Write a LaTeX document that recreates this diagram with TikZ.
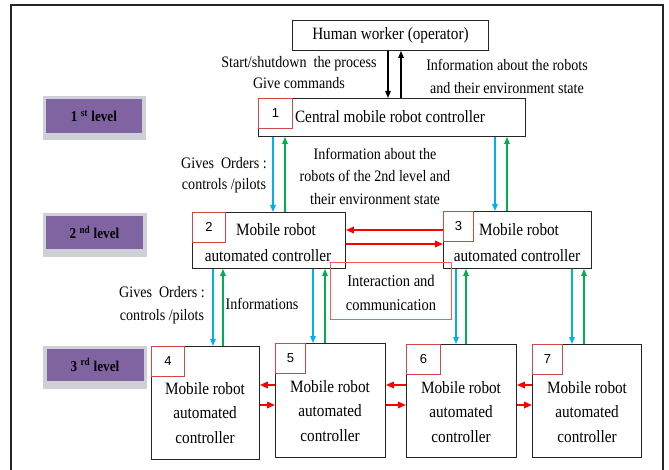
\documentclass[tikz,border=0pt]{standalone}
\usepackage{fontspec}
\setmainfont{Liberation Serif}[FakeStretch=0.88]
\newfontfamily\numfont{Liberation Sans}
\usetikzlibrary{arrows.meta}
\definecolor{cblue}{HTML}{00B0F0}
\definecolor{cgreen}{HTML}{00B050}
\definecolor{cred}{HTML}{FF0000}
\definecolor{nred}{HTML}{D04848}
\definecolor{ired}{HTML}{FF5A5A}
\definecolor{lvpurple}{HTML}{8064A2}
\definecolor{lvshadow}{HTML}{CFCFD8}
\begin{document}
\begin{tikzpicture}[x=1pt,y=-1pt,
  box/.style={draw=black!85, line width=0.9pt, anchor=north west, inner sep=0pt},
  numbox/.style={draw=nred, line width=0.9pt, anchor=north west, inner sep=0pt,
    minimum height=30pt, font=\numfont\fontsize{13}{15}\selectfont},
  ibox/.style={draw=ired, line width=1pt, anchor=north west, inner sep=0pt},
  lvbox/.style={fill=lvpurple, inner sep=0pt, font=\bfseries\fontsize{15}{17}\selectfont},
  lbl/.style={align=center, inner sep=0pt, font=\fontsize{16}{21}\selectfont},
  btxt/.style={align=center, inner sep=0pt, font=\fontsize{17.3}{26}\selectfont},
  ctxt/.style={align=center, inner sep=0pt, font=\fontsize{17.3}{24.5}\selectfont},
  karrow/.style={draw=black, line width=1.2pt, -{Triangle[length=7pt,width=5.5pt]}},
  barrow/.style={draw=cblue, line width=1.3pt, -{Triangle[length=7pt,width=5.5pt]}},
  garrow/.style={draw=cgreen, line width=1.3pt, -{Triangle[length=7pt,width=5.5pt]}},
  rarrow/.style={draw=cred, line width=1.8pt, -{Triangle[length=8pt,width=6.5pt]}},
  frame/.style={draw=black!85, line width=1.8pt}
]
\useasboundingbox (0,0) rectangle (669,470);
\draw[frame] (11,476) -- (11,5) -- (663,5) -- (663,476);

% level labels
\fill[lvshadow] (43,96) rectangle (146,140);
\node[lvbox, minimum width=96pt, minimum height=34pt] (lv1) at (94,116) {1 \textsuperscript{st} level};
\fill[lvshadow] (43,213) rectangle (147,257);
\node[lvbox, minimum width=97pt, minimum height=33pt] (lv2) at (94.5,232.5) {2 \textsuperscript{nd} level};
\fill[lvshadow] (43,346) rectangle (147,389);
\node[lvbox, minimum width=97pt, minimum height=32pt] (lv3) at (95,365) {3 \textsuperscript{rd} level};

% main boxes
\node[box, minimum width=196pt, minimum height=30pt, font=\fontsize{17.3}{18}\selectfont] (hw) at (292,20) {Human worker (operator)};
\node[box, minimum width=267pt, minimum height=38pt] (c1) at (258,98) {};
\node[box, minimum width=153pt, minimum height=56pt] (b2) at (192,212) {};
\node[box, minimum width=148pt, minimum height=57pt] (b3) at (443,211) {};
\node[box, minimum width=108pt, minimum height=113pt] (b4) at (151,346) {};
\node[box, minimum width=110pt, minimum height=114pt] (b5) at (275,343) {};
\node[box, minimum width=110pt, minimum height=113pt] (b6) at (406,344) {};
\node[box, minimum width=109pt, minimum height=113pt] (b7) at (532,344) {};
\node[ibox, minimum width=121pt, minimum height=57pt] (ib) at (330,262) {};

% number boxes
\node[numbox, minimum width=34pt] (n1) at (258,98) {1};
\node[numbox, minimum width=33pt] (n2) at (192,212) {2};
\node[numbox, minimum width=30pt] (n3) at (443,211) {3};
\node[numbox, minimum width=33pt] (n4) at (151,346) {4};
\node[numbox, minimum width=30pt] (n5) at (275,343) {5};
\node[numbox, minimum width=34pt] (n6) at (406,344) {6};
\node[numbox, minimum width=30pt] (n7) at (532,344) {7};

% box texts
\node[btxt] (t1) at (390,117) {Central mobile robot controller};
\node[btxt] (t2a) at (276,230) {Mobile robot};
\node[btxt] (t2b) at (268,256) {automated controller};
\node[btxt] (t3a) at (519,230) {Mobile robot};
\node[btxt] (t3b) at (517,256) {automated controller};
\node[ctxt] (t4) at (205,413) {Mobile robot\\automated\\controller};
\node[ctxt] (t5) at (330,411) {Mobile robot\\automated\\controller};
\node[ctxt] (t6) at (461,412) {Mobile robot\\automated\\controller};
\node[ctxt] (t7) at (587,412) {Mobile robot\\automated\\controller};
\node[btxt, font=\fontsize{16.5}{24}\selectfont] (ti) at (391,293) {Interaction and\\communication};

% labels
\node[lbl] (l1) at (299,73) {Start/shutdown\ \ the process\\Give commands};
\node[lbl, font=\fontsize{16}{23}\selectfont] (l2) at (507,76) {Information about the robots\\and their environment state};
\node[lbl] (l3) at (224,175) {Gives\ \ Orders :\\controls /pilots};
\node[lbl, font=\fontsize{16}{22.5}\selectfont] (l4) at (375,176) {Information about the\\robots of the 2nd level and\\their environment state};
\node[lbl, font=\fontsize{16}{23}\selectfont] (l5) at (162,305) {Gives\ \ Orders :\\controls /pilots};
\node[lbl] (l6) at (262,304) {Informations};

% columns and rows
\coordinate (xk1) at (388,0);
\coordinate (xk2) at (401,0);
\coordinate (xb1) at (273,0);  \coordinate (xg1) at (285,0);
\coordinate (xb2) at (495,0);  \coordinate (xg2) at (507,0);
\coordinate (xb3) at (213,0);  \coordinate (xg3) at (223,0);
\coordinate (xb4) at (313,0);  \coordinate (xg4) at (325,0);
\coordinate (xb5) at (456,0);  \coordinate (xg5) at (466,0);
\coordinate (xb6) at (572,0);  \coordinate (xg6) at (584,0);
\coordinate (yr1) at (0,230);  \coordinate (yr2) at (0,244);
\coordinate (yr3) at (0,385);  \coordinate (yr4) at (0,405);

% black arrows
\draw[karrow] (hw.south -| xk1) -- (c1.north -| xk1);
\draw[karrow] (c1.north -| xk2) -- (hw.south -| xk2);

% level 1 -> 2
\draw[barrow] (c1.south -| xb1) -- (b2.north -| xb1);
\draw[garrow] (b2.north -| xg1) -- (c1.south -| xg1);
\draw[barrow] (c1.south -| xb2) -- (b3.north -| xb2);
\draw[garrow] (b3.north -| xg2) -- (c1.south -| xg2);

% level 2 -> 3
\draw[barrow] (b2.south -| xb3) -- (b4.north -| xb3);
\draw[garrow] (b4.north -| xg3) -- (b2.south -| xg3);
\draw[barrow] (b2.south -| xb4) -- (b5.north -| xb4);
\draw[garrow] (b5.north -| xg4) -- (b2.south -| xg4);
\draw[barrow] (b3.south -| xb5) -- (b6.north -| xb5);
\draw[garrow] (b6.north -| xg5) -- (b3.south -| xg5);
\draw[barrow] (b3.south -| xb6) -- (b7.north -| xb6);
\draw[garrow] (b7.north -| xg6) -- (b3.south -| xg6);

% red interaction arrows
\draw[rarrow] (b3.west |- yr1) -- (b2.east |- yr1);
\draw[rarrow] (b2.east |- yr2) -- (b3.west |- yr2);
\draw[rarrow] (b5.west |- yr3) -- (b4.east |- yr3);
\draw[rarrow] (b4.east |- yr4) -- (b5.west |- yr4);
\draw[rarrow] (b6.west |- yr3) -- (b5.east |- yr3);
\draw[rarrow] (b5.east |- yr4) -- (b6.west |- yr4);
\draw[rarrow] (b7.west |- yr3) -- (b6.east |- yr3);
\draw[rarrow] (b6.east |- yr4) -- (b7.west |- yr4);
\end{tikzpicture}
\end{document}
